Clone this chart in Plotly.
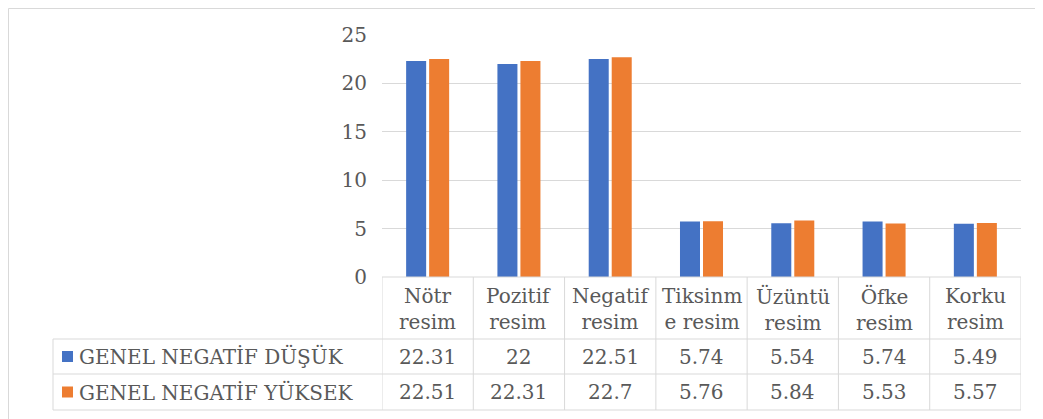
import plotly.graph_objects as go

categories = ["Nötr resim", "Pozitif resim", "Negatif resim", "Tiksinme resim",
              "Üzüntü resim", "Öfke resim", "Korku resim"]
header_labels = ["Nötr<br>resim", "Pozitif<br>resim", "Negatif<br>resim", "Tiksinm<br>e resim",
                 "Üzüntü<br>resim", "Öfke<br>resim", "Korku<br>resim"]
series_names = ["GENEL NEGATİF DÜŞÜK", "GENEL NEGATİF YÜKSEK"]
dusuk = [22.31, 22, 22.51, 5.74, 5.54, 5.74, 5.49]
yuksek = [22.51, 22.31, 22.7, 5.76, 5.84, 5.53, 5.57]
colors = ["#4472C4", "#ED7D31"]

OFF = 8  # page body margin
W, H = 1043 - OFF, 419 - OFF
L, R, T, B = 382 - OFF, 1021 - OFF, 35 - OFF, 277 - OFF   # plot area in pixels
FONT = "DejaVu Serif"
TXT = "#595959"
GRID = "#D9D9D9"


def px_x(x):
    return (x - OFF - L) / (R - L)


def px_y(y):
    return (B - (y - OFF)) / (B - T)


fig = go.Figure()
for name, vals, col in zip(series_names, [dusuk, yuksek], colors):
    fig.add_trace(go.Bar(x=categories, y=vals, name=name, marker_color=col,
                         marker_line_width=0))

# --- data table below the plot (screen pixel coordinates)
row_top = [277, 339, 374, 410]
shapes = []
line = dict(color=GRID, width=1)
shapes.append(dict(type="line", xref="paper", yref="paper", x0=0, x1=1,
                   y0=px_y(row_top[0]), y1=px_y(row_top[0]), line=line))
for y in row_top[1:]:
    shapes.append(dict(type="line", xref="paper", yref="paper", x0=px_x(53), x1=1,
                       y0=px_y(y), y1=px_y(y), line=line))
shapes.append(dict(type="line", xref="paper", yref="paper", x0=px_x(53), x1=px_x(53),
                   y0=px_y(339), y1=px_y(410), line=line))
for i in range(len(categories) + 1):
    shapes.append(dict(type="line", xref="x", yref="paper", x0=i - 0.5, x1=i - 0.5,
                       y0=px_y(277), y1=px_y(410), line=line))
# legend keys
for j, col in enumerate(colors):
    yc = (row_top[j + 1] + row_top[j + 2]) / 2
    shapes.append(dict(type="rect", xref="paper", yref="paper",
                       x0=px_x(62), x1=px_x(73), y0=px_y(yc - 5.5), y1=px_y(yc + 5.5),
                       fillcolor=col, line=dict(width=0)))
# outer chart border (top and left)
shapes.append(dict(type="line", xref="paper", yref="paper", x0=px_x(8.5), x1=px_x(1043),
                   y0=px_y(8.5), y1=px_y(8.5), line=line))
shapes.append(dict(type="line", xref="paper", yref="paper", x0=px_x(8.5), x1=px_x(8.5),
                   y0=px_y(8.5), y1=px_y(419), line=line))

annotations = []
font = dict(family=FONT, size=20, color=TXT)
for i, lab in enumerate(header_labels):
    annotations.append(dict(x=i, xref="x", y=px_y(309), yref="paper", text=lab,
                            showarrow=False, font=font, align="center",
                            xanchor="center", yanchor="middle"))
for j, (name, vals) in enumerate(zip(series_names, [dusuk, yuksek])):
    yc = (row_top[j + 1] + row_top[j + 2]) / 2
    annotations.append(dict(x=px_x(77), xref="paper", y=px_y(yc), yref="paper", text=name,
                            showarrow=False, font=font, xanchor="left", yanchor="middle"))
    for i, v in enumerate(vals):
        annotations.append(dict(x=i, xref="x", y=px_y(yc), yref="paper", text=f"{v:g}",
                                showarrow=False, font=font, xanchor="center",
                                yanchor="middle"))

fig.update_layout(
    width=W, height=H,
    margin=dict(l=L, r=W - R, t=T, b=H - B),
    paper_bgcolor="white", plot_bgcolor="white",
    barmode="group", bargap=0.496, bargroupgap=0.13,
    showlegend=False,
    font=dict(family=FONT, size=20, color=TXT),
    shapes=shapes, annotations=annotations,
)
fig.update_xaxes(showticklabels=False, showgrid=False, zeroline=False, showline=False,
                 range=[-0.5, len(categories) - 0.5])
fig.update_yaxes(range=[0, 25], dtick=5, gridcolor=GRID, gridwidth=1, zeroline=False,
                 showline=False, ticks="", ticklabelstandoff=14,
                 tickfont=dict(family=FONT, size=20, color=TXT))

fig.write_html("out.html")
